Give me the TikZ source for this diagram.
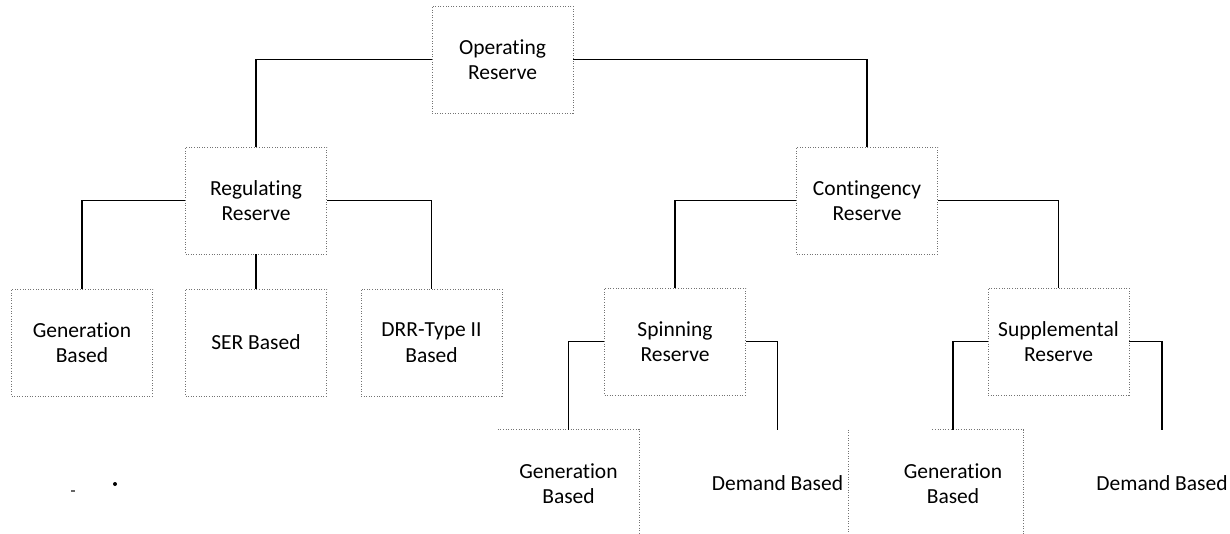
\documentclass[tikz,border=0pt]{standalone}
\usepackage{fontspec}
\setmainfont{Carlito}[Ligatures=NoCommon]
\begin{document}
\begin{tikzpicture}[x=1pt,y=-1pt,
  every node/.style={font=\fontsize{21.5}{25.5}\selectfont, align=center, inner sep=0pt},
  box/.style={minimum width=141pt, minimum height=107pt},
  dotbox/.style={box, draw=black!55, line width=0.7pt, dash pattern=on 1pt off 1.6pt},
  edgedot/.style={draw=black!55, line width=0.7pt, dash pattern=on 1pt off 1.6pt},
  link/.style={draw=black, line width=1.6pt}]
\useasboundingbox (0,0) rectangle (1230,533);
% level 1
\node[dotbox] (op) at (502.5,59.5) {Operating\\Reserve};
% level 2
\node[dotbox] (reg) at (256,200.5) {Regulating\\Reserve};
\node[dotbox] (cont) at (867,200.5) {Contingency\\Reserve};
% level 3 left
\node[dotbox] (genA) at (82,342.5) {Generation\\Based};
\node[dotbox] (ser) at (256,342.5) {SER Based};
\node[dotbox] (drr) at (431.5,342.5) {DRR-Type II\\Based};
% level 3 right
\node[dotbox] (spin) at (675,341.5) {Spinning\\Reserve};
\node[dotbox] (supp) at (1058.5,341.5) {Supplemental\\Reserve};
% level 4
\node[box] (genB) at (568.5,483.5) {Generation\\Based};
\node[box] (demB) at (777.5,483.5) {Demand Based};
\node[box] (genC) at (953,483.5) {Generation\\Based};
\node[box] (demC) at (1162,483.5) {Demand Based};
% partial borders of level 4
\path[edgedot] (genB.north west) -- (genB.north east) -- (genB.south east);
\path[edgedot] (demB.north east) -- (demB.south east);
\path[edgedot] ([xshift=50pt]genC.north west) -- (genC.north east) -- (genC.south east);
% connectors
\path[link] (op.west) -| (reg.north);
\path[link] (op.east) -| (cont.north);
\path[link] (reg.west) -| (genA.north);
\path[link] (reg.south) -- (ser.north);
\path[link] (reg.east) -| (drr.north);
\path[link] (cont.west) -| (spin.north);
\path[link] (cont.east) -| (supp.north);
\path[link] (spin.west) -| (genB.north);
\path[link] (spin.east) -| (demB.north);
\path[link] (supp.west) -| (genC.north);
\path[link] (supp.east) -| (demC.north);
% scan specks
\fill[black] (115,484) circle (2pt);
\fill[black!60] (71,490) rectangle (75,492);
\end{tikzpicture}
\end{document}
